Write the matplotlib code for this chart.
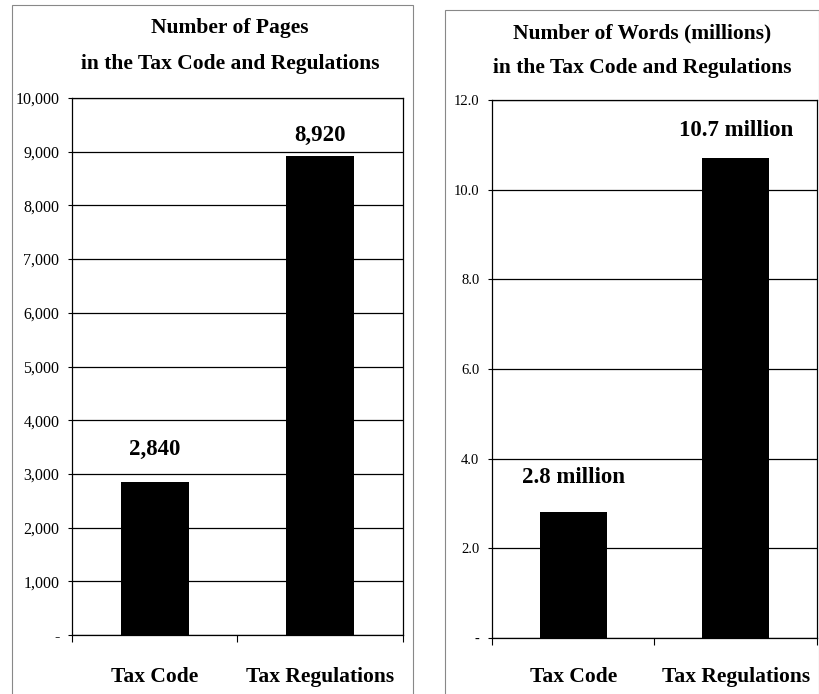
import matplotlib
matplotlib.use("Agg")
import matplotlib.pyplot as plt
from matplotlib.patches import Rectangle

plt.rcParams['font.family'] = ['Liberation Serif', 'DejaVu Serif']

categories = ["Tax Code", "Tax Regulations"]
pages = [2840, 8920]
page_labels = ["2,840", "8,920"]
words = [2.8, 10.7]
word_labels = ["2.8 million", "10.7 million"]
page_ticks = [0, 1000, 2000, 3000, 4000, 5000, 6000, 7000, 8000, 9000, 10000]
page_ticklabels = ["-", "1,000", "2,000", "3,000", "4,000", "5,000", "6,000",
                   "7,000", "8,000", "9,000", "10,000"]
word_ticks = [0, 2, 4, 6, 8, 10, 12]
word_ticklabels = ["-", "2.0", "4.0", "6.0", "8.0", "10.0", "12.0"]
titles = ["Number of Pages\nin the Tax Code and Regulations",
          "Number of Words (millions)\nin the Tax Code and Regulations"]

W, H = 820, 694
fig = plt.figure(figsize=(W / 100, H / 100), dpi=100)
fig.patch.set_facecolor("white")

def fx(px):
    return px / W

def fy(py):
    return 1 - py / H

# panel borders
for (x0, y0, x1, y1) in [(12, 5, 413, 700), (445, 10, 819, 700)]:
    fig.patches.append(Rectangle((fx(x0), fy(y1)), fx(x1 - x0), fy(y0) - fy(y1),
                                 transform=fig.transFigure, fill=False,
                                 edgecolor="#888888", linewidth=0.8))

ax1 = fig.add_axes([fx(72), fy(635), fx(403 - 72), fy(98) - fy(635)])
ax2 = fig.add_axes([fx(492), fy(638), fx(817 - 492), fy(100) - fy(638)])

specs = [
    (ax1, pages, page_labels, page_ticks, page_ticklabels, (0, 10000), [24, 15], 11.5, 23),
    (ax2, words, word_labels, word_ticks, word_ticklabels, (0, 12), [25, 20], 10.5, 21),
]

for ax, vals, labs, ticks, ticklabs, ylim, offs, tfs, xpad in specs:
    x = list(range(len(categories)))
    ax.bar(x, vals, width=0.41, color="black", zorder=3)
    ax.set_xlim(-0.5, 1.5)
    ax.set_ylim(*ylim)
    ax.set_yticks(ticks)
    ax.set_yticklabels(ticklabs, fontsize=tfs)
    ax.tick_params(axis="y", length=3, width=0.8, pad=6)
    ax.yaxis.grid(True, color="black", linewidth=0.9, zorder=1)
    ax.set_axisbelow(True)
    ax.set_xticks(x)
    ax.set_xticklabels(categories, fontsize=15.5, fontweight="bold")
    ax.tick_params(axis="x", which="major", length=0, pad=xpad)
    ax.set_xticks([-0.5, 0.5, 1.5], minor=True)
    ax.tick_params(axis="x", which="minor", length=5, width=0.8)
    for s in ax.spines.values():
        s.set_linewidth(0.9)
        s.set_color("black")
    for xi, v, lab, off in zip(x, vals, labs, offs):
        ax.annotate(lab, (xi, v), xytext=(0, off), textcoords="offset points",
                    ha="center", va="center", fontsize=16.5, fontweight="bold")

fig.text(fx(230), fy(46), titles[0], ha="center", va="center", fontsize=15.5,
         fontweight="bold", linespacing=2.0)
fig.text(fx(642), fy(51), titles[1], ha="center", va="center", fontsize=15.5,
         fontweight="bold", linespacing=2.0)

fig.savefig("out.png", dpi=100, facecolor="white")
